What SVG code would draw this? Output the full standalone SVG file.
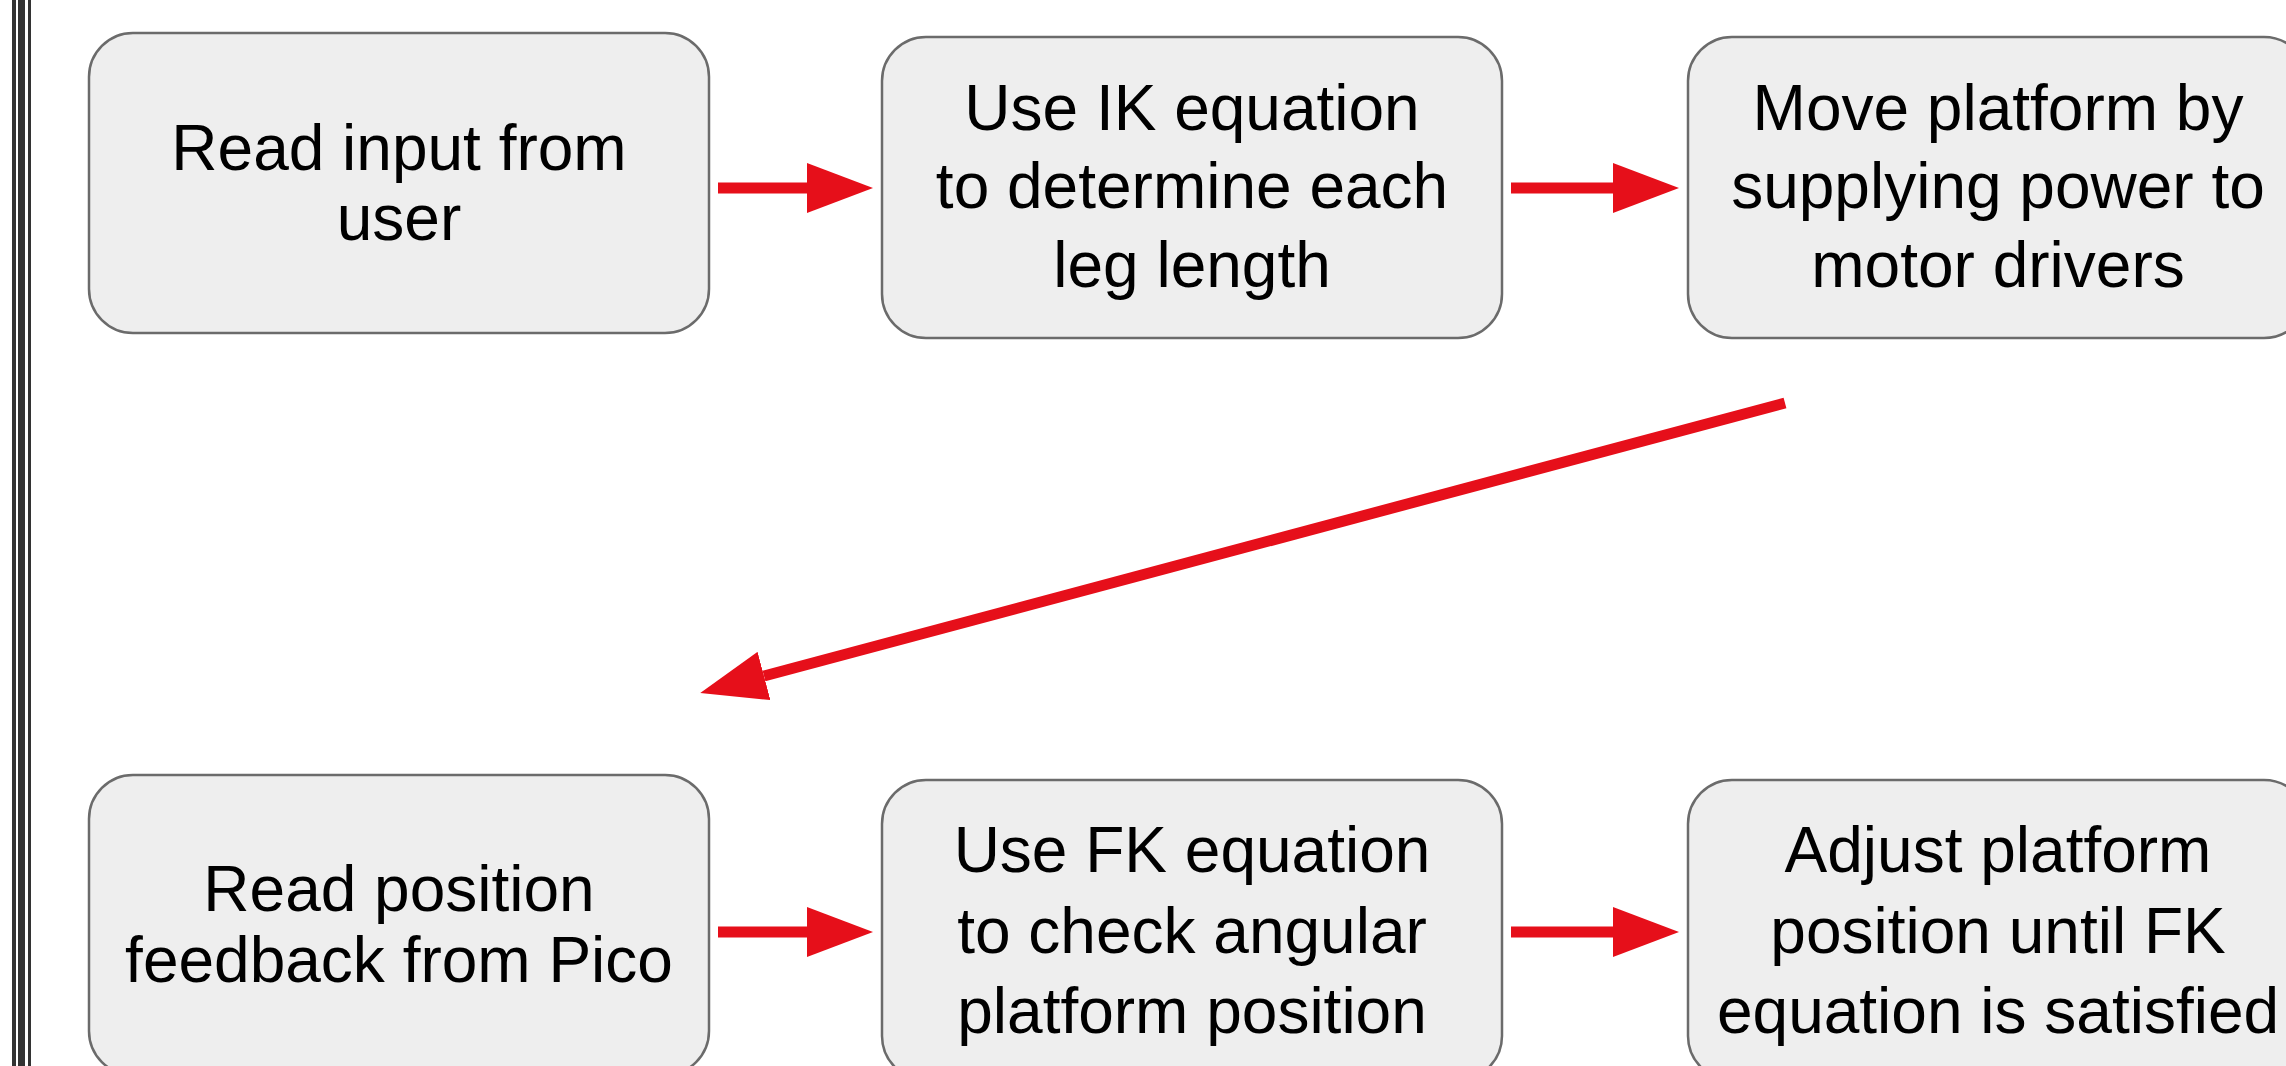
<svg xmlns="http://www.w3.org/2000/svg" width="2286" height="1066" viewBox="0 0 2286 1066">
  <defs>
    <marker id="head" markerUnits="userSpaceOnUse" markerWidth="66" markerHeight="50" refX="0" refY="25" orient="auto" viewBox="0 0 66 50">
      <path d="M0,0 L66,25 L0,50 z" fill="#e60f1a"/>
    </marker>
    <style>
      .box { fill: #eeeeee; stroke: #6b6b6b; stroke-width: 2.5; }
      .lbl { font-family: "Liberation Sans", Arial, sans-serif; font-size: 64px; fill: #000000; text-anchor: middle; }
      .conn { stroke: #e60f1a; stroke-width: 11; fill: none; marker-end: url(#head); }
      .bar { fill: #333333; }
    </style>
  </defs>
  <rect width="2286" height="1066" fill="#ffffff"/>
  <g id="border">
    <rect class="bar" x="12" y="0" width="4" height="1066"/>
    <rect class="bar" x="18" y="0" width="7" height="1066"/>
    <rect class="bar" x="28" y="0" width="3" height="1066"/>
  </g>
  <g id="n1">
    <rect class="box" x="89" y="33" width="620" height="300" rx="44" ry="44"/>
    <text class="lbl" x="399" y="170">Read input from</text>
    <text class="lbl" x="399" y="240">user</text>
  </g>
  <g id="n2">
    <rect class="box" x="882" y="37" width="620" height="301" rx="44" ry="44"/>
    <text class="lbl" x="1192" y="130">Use IK equation</text>
    <text class="lbl" x="1192" y="208">to determine each</text>
    <text class="lbl" x="1192" y="287">leg length</text>
  </g>
  <g id="n3">
    <rect class="box" x="1688" y="37" width="620" height="301" rx="44" ry="44"/>
    <text class="lbl" x="1998" y="130">Move platform by</text>
    <text class="lbl" x="1998" y="208">supplying power to</text>
    <text class="lbl" x="1998" y="287">motor drivers</text>
  </g>
  <g id="n4">
    <rect class="box" x="89" y="775" width="620" height="300" rx="44" ry="44"/>
    <text class="lbl" x="399" y="911">Read position</text>
    <text class="lbl" x="399" y="982">feedback from Pico</text>
  </g>
  <g id="n5">
    <rect class="box" x="882" y="780" width="620" height="300" rx="44" ry="44"/>
    <text class="lbl" x="1192" y="872">Use FK equation</text>
    <text class="lbl" x="1192" y="953">to check angular</text>
    <text class="lbl" x="1192" y="1033">platform position</text>
  </g>
  <g id="n6">
    <rect class="box" x="1688" y="780" width="620" height="300" rx="44" ry="44"/>
    <text class="lbl" x="1998" y="872">Adjust platform</text>
    <text class="lbl" x="1998" y="953">position until FK</text>
    <text class="lbl" x="1998" y="1033">equation is satisfied</text>
  </g>
  <g id="connectors">
    <line class="conn" x1="718" y1="188" x2="807" y2="188"/>
    <line class="conn" x1="1511" y1="188" x2="1613" y2="188"/>
    <line class="conn" x1="1785" y1="403" x2="764" y2="676"/>
    <line class="conn" x1="718" y1="932" x2="807" y2="932"/>
    <line class="conn" x1="1511" y1="932" x2="1613" y2="932"/>
  </g>
</svg>
